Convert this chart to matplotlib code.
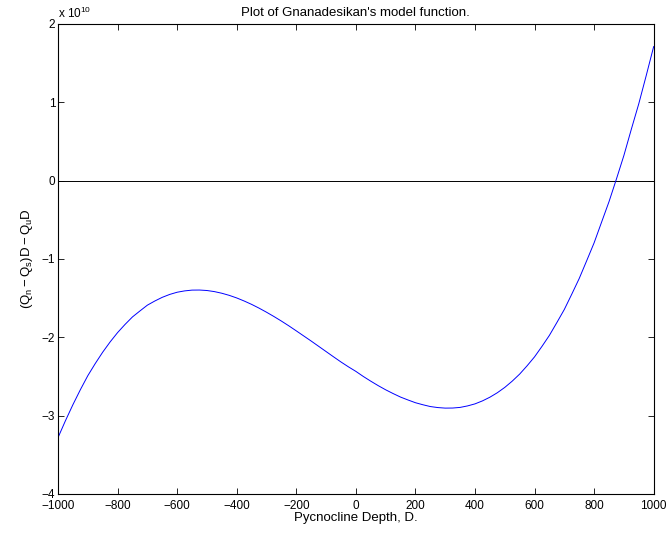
import matplotlib
matplotlib.use("Agg")
import matplotlib.pyplot as plt

# Pycnocline depth D and model function value (units of 1e10)
depth = list(range(-1000, 1001, 25))
model = [-3.28, -3.064, -2.86, -2.669, -2.49, -2.335, -2.19, -2.059, -1.94, -1.836,
         -1.74, -1.664, -1.59, -1.537, -1.49, -1.453, -1.425, -1.408, -1.398, -1.397,
         -1.403, -1.417, -1.438, -1.465, -1.498, -1.537, -1.58, -1.628, -1.68, -1.735,
         -1.793, -1.854, -1.918, -1.983, -2.048, -2.115, -2.182, -2.249, -2.315, -2.377,
         -2.435, -2.50, -2.56, -2.617, -2.67, -2.718, -2.763, -2.80, -2.835, -2.861,
         -2.884, -2.897, -2.904, -2.903, -2.895, -2.876, -2.85, -2.812, -2.765, -2.708,
         -2.64, -2.56, -2.47, -2.364, -2.25, -2.116, -1.975, -1.812, -1.645, -1.45,
         -1.25, -1.024, -0.795, -0.532, -0.27, 0.02, 0.32, 0.655, 0.98, 1.34, 1.71]
zero_x = [-1000, 1000]
zero_y = [0, 0]

plt.rcParams['font.family'] = ['Liberation Sans', 'DejaVu Sans']
plt.rcParams['mathtext.fontset'] = 'custom'
plt.rcParams['mathtext.rm'] = 'Liberation Sans'
plt.rcParams['mathtext.it'] = 'Liberation Sans'
plt.rcParams['mathtext.default'] = 'regular'

fig = plt.figure(figsize=(6.67, 5.33), dpi=100)
ax = fig.add_axes([0.087, 0.0732, 0.893, 0.882])

ax.plot(zero_x, zero_y, color="black", lw=0.7)
ax.plot(depth, model, color="blue", lw=0.7)

ax.set_xlim(-1000, 1000)
ax.set_ylim(-4, 2)
ax.set_xticks(range(-1000, 1001, 200))
ax.set_yticks(range(-4, 3))
ax.tick_params(direction="in", top=True, right=True, labelsize=8.5, length=4, width=0.6, pad=2)
ax.tick_params(axis="x", pad=4.5)
for s in ax.spines.values():
    s.set_linewidth(0.8)

ax.set_title("Plot of Gnanadesikan's model function.", fontsize=9.5, pad=6)
ax.set_xlabel("Pycnocline Depth, D.", fontsize=9.5, labelpad=0)
ax.set_ylabel(r"$(Q_n - Q_s)D - Q_uD$", fontsize=9.5, labelpad=5)
ax.text(0.0, 1.006, r"x 10$^{10}$", transform=ax.transAxes, fontsize=8.5, va="bottom", ha="left")

fig.savefig("out.png", dpi=100)
